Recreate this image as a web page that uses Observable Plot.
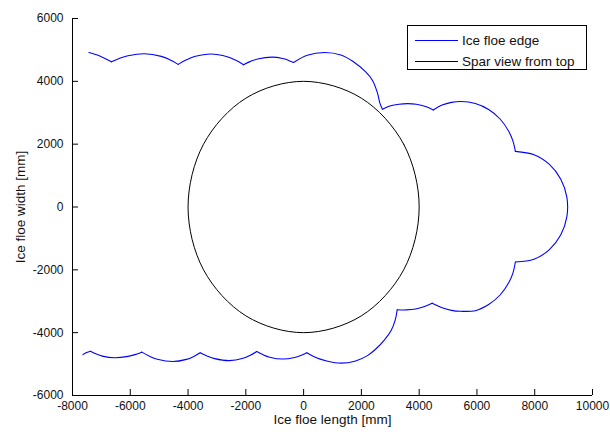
<!DOCTYPE html>
<html><head><meta charset="utf-8">
<script src="https://cdn.jsdelivr.net/npm/d3@7"></script>
<script src="https://cdn.jsdelivr.net/npm/@observablehq/plot@0.6"></script>
<style>
body{margin:0;background:#fff;}
#wrap{position:relative;width:610px;height:434px;font-family:"Liberation Sans",Arial,sans-serif;}
#legend{position:absolute;left:407px;top:25px;width:180px;height:45px;border:1px solid #000;background:#fff;box-sizing:border-box;}
.row{position:absolute;left:0;height:16px;display:flex;align-items:center;font-size:13.5px;color:#111;white-space:nowrap;}
.sw{display:inline-block;width:43px;height:0;border-top:1px solid;margin-left:7px;margin-right:4px;}
</style></head><body><div id="wrap"><div id="legend"></div></div>
<script>
// Axis ticks
const xTicks = [-8000,-6000,-4000,-2000,0,2000,4000,6000,8000,10000];
const yTicks = [-6000,-4000,-2000,0,2000,4000,6000];
const xLabel = "Ice floe length [mm]";
const yLabel = "Ice floe width [mm]";
const seriesNames = ["Ice floe edge","Spar view from top"];

// Ice floe edge: circular arcs (x, y in mm), top-left -> right -> bottom-left
const arcTop1 = [[-7430,4915],[-7040,4800],[-6650,4620]];
const arcTop2 = [[-6650,4620],[-6365,4734],[-6080,4815],[-5510,4880],[-4925,4795],[-4633,4689],[-4340,4540]];
const arcTop3 = [[-4340,4540],[-4058,4684],[-3775,4788],[-3210,4870],[-2645,4785],[-2362,4679],[-2080,4530]];
const arcTop4 = [[-2080,4530],[-1835,4635],[-1590,4710],[-1100,4770],[-725,4728],[-538,4674],[-350,4600]];
const arcTop5 = [[-350,4600],[130,4830],[710,4920],[1290,4840],[1700,4640],[2149,4300],[2380,4035],[2553,3640],[2643,3300],[2730,3110]];
const arcTop6 = [[2730,3110],[3010,3220],[3300,3271],[3600,3290],[3900,3271],[4220,3200],[4490,3090]];
const arcTop7 = [[4490,3090],[4797,3245],[5118,3331],[5450,3360],[5944,3295],[6405,3104],[6801,2801],[7104,2405],[7245,2103],[7330,1770]];
const arcRight = [[7330,1770],[7975,1663],[8508,1356],[8903,885],[9113,307],[9113,-307],[8903,-885],[8508,-1356],[7975,-1663],[7330,-1750]];
const arcBot7 = [[7330,-1750],[7245,-2103],[7104,-2405],[6801,-2801],[6405,-3104],[5944,-3300],[5450,-3320],[5118,-3290],[4797,-3205],[4450,-3060]];
const arcBot6 = [[4450,-3060],[4160,-3175],[3880,-3245],[3550,-3275],[3240,-3270]];
const arcBot5 = [[3240,-3270],[3170,-3600],[3030,-3930],[2800,-4230],[2500,-4520],[2210,-4730],[1800,-4900],[1290,-4970],[800,-4900],[420,-4790],[110,-4640]];
const arcBot4 = [[110,-4640],[-100,-4728],[-310,-4790],[-730,-4840],[-1175,-4780],[-1397,-4705],[-1620,-4600]];
const arcBot3 = [[-1620,-4600],[-1858,-4727],[-2095,-4817],[-2570,-4890],[-3075,-4827],[-3327,-4749],[-3580,-4640]];
const arcBot2 = [[-3580,-4640],[-3817,-4763],[-4055,-4850],[-4530,-4920],[-5065,-4845],[-5332,-4751],[-5600,-4620]];
const arcBot1 = [[-5600,-4620],[-5837,-4699],[-6075,-4755],[-6550,-4800],[-6965,-4747],[-7172,-4682],[-7380,-4590]];
const arcBot0 = [[-7380,-4590],[-7510,-4630],[-7640,-4700]];

// Spar seen from top: circle of radius 4000 mm read at 30-degree steps
const sparX = [4000,3464,2000,0,-2000,-3464,-4000,-3464,-2000,0,2000,3464];
const sparY = [0,2000,3464,4000,3464,2000,0,-2000,-3464,-4000,-3464,-2000];

const arcs = [arcTop1,arcTop2,arcTop3,arcTop4,arcTop5,arcTop6,arcTop7,arcRight,arcBot7,arcBot6,arcBot5,arcBot4,arcBot3,arcBot2,arcBot1,arcBot0];
const edge = arcs.flatMap((pts,i)=>pts.map(([x,y])=>({x,y,arc:i})));
const spar = sparX.map((x,i)=>({x,y:sparY[i]}));

const fmt = d=>String(d);
const plot = Plot.plot({
  width:610, height:434,
  marginLeft:72, marginRight:18, marginTop:18, marginBottom:39,
  style:{fontFamily:"'Liberation Sans', Arial, sans-serif", fontSize:"12px", color:"#111", background:"#fff", overflow:"visible"},
  x:{domain:[xTicks[0], xTicks[xTicks.length-1]]},
  y:{domain:[yTicks[0], yTicks[yTicks.length-1]]},
  marks:[
    Plot.axisX({ticks:xTicks, tickSize:-6, tickPadding:12, tickFormat:fmt, label:null, stroke:"#000"}),
    Plot.axisY({ticks:yTicks, tickSize:-6, tickPadding:15, tickFormat:fmt, label:null, stroke:"#000"}),
    Plot.ruleX([xTicks[0]], {stroke:"#000"}),
    Plot.ruleY([yTicks[0]], {stroke:"#000"}),
    Plot.text([xLabel], {frameAnchor:"bottom", dy:24, lineAnchor:"middle", textAnchor:"middle", fontSize:13.5, fill:"#111"}),
    Plot.text([yLabel], {frameAnchor:"left", dx:-52, rotate:-90, lineAnchor:"middle", textAnchor:"middle", fontSize:13.5, fill:"#111"}),
    Plot.line(spar, {x:"x", y:"y", stroke:"#000", strokeWidth:1, curve:"catmull-rom-closed"}),
    Plot.line(edge, {x:"x", y:"y", z:"arc", stroke:"#0000ff", strokeWidth:1.1, curve:"catmull-rom"})
  ]
});
const wrap = document.getElementById("wrap");
wrap.insertBefore(plot, wrap.firstChild);

const legend = document.getElementById("legend");
const colors = ["#0000ff","#000"];
seriesNames.forEach((name,i)=>{
  const r = document.createElement("div");
  r.className="row";
  r.style.top = (6 + i*21) + "px";
  const s = document.createElement("span"); s.className="sw"; s.style.borderTopColor = colors[i];
  r.appendChild(s);
  r.appendChild(document.createTextNode(name));
  legend.appendChild(r);
});
</script></body></html>
